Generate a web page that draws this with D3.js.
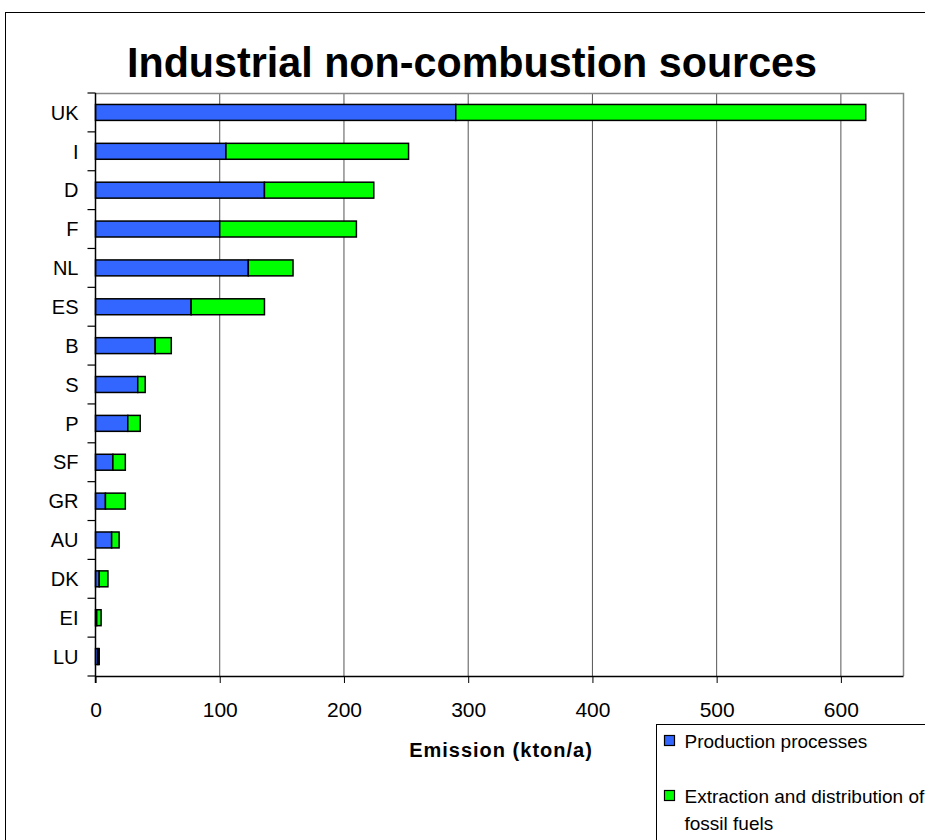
<!DOCTYPE html>
<html>
<head>
<meta charset="utf-8">
<script src="https://cdn.jsdelivr.net/npm/d3@7"></script>
<style>
  body { margin: 0; background: #fff; }
  svg { display: block; font-family: "Liberation Sans", Arial, sans-serif; }
</style>
</head>
<body>
<svg id="chart" width="925" height="840"></svg>
<script>
// countries, top to bottom
var countries = ["UK", "I", "D", "F", "NL", "ES", "B", "S", "P", "SF", "GR", "AU", "DK", "EI", "LU"];
// kton/a
var production = [290, 105, 136, 100, 123, 77, 48, 34, 26, 14, 8, 13, 3, 1, 2];
var extraction = [330, 147, 88, 110, 36, 59, 13, 6, 10, 10, 16, 6, 7, 3.5, 1];
var xTicks = [0, 100, 200, 300, 400, 500, 600];
var seriesNames = ["Production processes", "Extraction and distribution of fossil fuels"];
var seriesColors = ["#3366ff", "#00ff00"];

(function(){
  var svg = d3.select("#chart"),
    margin = {top: 93, right: 22, bottom: 164, left: 95.5},
    width = 925 - margin.left - margin.right,
    height = 840 - margin.top - margin.bottom,
    x, y, g;

  function init(){
    drawFrame();
    initScale();
    drawGrid();
    drawBars();
    drawAxis();
    drawLegend();
  }

  function drawFrame(){
    svg.append("rect")
      .attr("x", 5.5).attr("y", 12.5)
      .attr("width", 960).attr("height", 900)
      .attr("fill", "none").attr("stroke", "#000").attr("stroke-width", 1);

    svg.append("text")
      .attr("x", 472).attr("y", 77)
      .attr("text-anchor", "middle")
      .attr("font-size", 42).attr("font-weight", "bold")
      .attr("textLength", 690).attr("lengthAdjust", "spacingAndGlyphs")
      .text("Industrial non-combustion sources");

    g = svg.append("g").attr("transform", "translate(" + margin.left + "," + margin.top + ")");
  }

  function initScale(){
    x = d3.scaleLinear().domain([0, 650]).range([0, width]);
    y = d3.scaleBand().domain(countries).range([0, height]).paddingInner(0.59).paddingOuter(0.295);
  }

  function drawGrid(){
    g.append("g").selectAll("line")
      .data(xTicks.slice(1))
      .join("line")
        .attr("x1", function(d){ return x(d); }).attr("x2", function(d){ return x(d); })
        .attr("y1", 0).attr("y2", height)
        .attr("stroke", "#555").attr("stroke-width", 1);

    // top and right edges of plot area
    g.append("path")
      .attr("d", "M0,0.5H" + (width + 0.5) + "V" + height)
      .attr("fill", "none").attr("stroke", "#888").attr("stroke-width", 1.5);
  }

  function drawBars(){
    var rows = countries.map(function(c, i){
      return {country: c, p: production[i], e: extraction[i]};
    });

    var bar = g.append("g").selectAll("g")
      .data(rows)
      .join("g");

    bar.append("rect")
      .attr("x", x(0))
      .attr("y", function(d){ return y(d.country); })
      .attr("width", function(d){ return x(d.p) - x(0); })
      .attr("height", y.bandwidth())
      .attr("fill", seriesColors[0])
      .attr("stroke", "#000").attr("stroke-width", 1.5);

    bar.append("rect")
      .attr("x", function(d){ return x(d.p); })
      .attr("y", function(d){ return y(d.country); })
      .attr("width", function(d){ return x(d.p + d.e) - x(d.p); })
      .attr("height", y.bandwidth())
      .attr("fill", seriesColors[1])
      .attr("stroke", "#000").attr("stroke-width", 1.5);
  }

  function drawAxis(){
    var xAxis = d3.axisBottom(x).tickValues(xTicks).tickSize(7).tickSizeOuter(0).tickPadding(19);
    var ax = g.append("g")
      .attr("transform", "translate(0," + height + ")")
      .call(xAxis);
    ax.select(".domain").attr("stroke", "#000").attr("stroke-width", 1.5);
    ax.selectAll(".tick line").attr("stroke", "#000");
    ax.selectAll("text").attr("font-size", 21).attr("font-family", "Liberation Sans, Arial, sans-serif").attr("fill", "#000");

    // y axis: labels centered on bands, ticks on band boundaries
    var ay = g.append("g");
    ay.append("line")
      .attr("x1", 0).attr("x2", 0).attr("y1", 0).attr("y2", height + 7)
      .attr("stroke", "#000").attr("stroke-width", 1.5);
    var step = y.step();
    ay.selectAll(".yt")
      .data(d3.range(countries.length + 1))
      .join("line")
        .attr("class", "yt")
        .attr("x1", -8).attr("x2", 0)
        .attr("y1", function(i){ return i * step; }).attr("y2", function(i){ return i * step; })
        .attr("stroke", "#000").attr("stroke-width", 1.2);
    ay.selectAll("text")
      .data(countries)
      .join("text")
        .attr("x", -17)
        .attr("y", function(d){ return y(d) + y.bandwidth() / 2; })
        .attr("dy", "0.36em")
        .attr("text-anchor", "end")
        .attr("font-size", 20)
        .text(function(d){ return d; });

    svg.append("text")
      .attr("x", 501).attr("y", 757)
      .attr("text-anchor", "middle")
      .attr("font-size", 20).attr("font-weight", "bold")
      .attr("letter-spacing", 1)
      .text("Emission (kton/a)");
  }

  function drawLegend(){
    var lg = svg.append("g").attr("transform", "translate(656.5,724.5)");
    lg.append("rect")
      .attr("width", 300).attr("height", 200)
      .attr("fill", "#fff").attr("stroke", "#000").attr("stroke-width", 1);

    var lines = [[seriesNames[0]], ["Extraction and distribution of", "fossil fuels"]];
    var tops = [11, 66];
    lines.forEach(function(l, i){
      lg.append("rect")
        .attr("x", 8).attr("y", tops[i])
        .attr("width", 10).attr("height", 10)
        .attr("fill", seriesColors[i]).attr("stroke", "#000").attr("stroke-width", 1.2);
      l.forEach(function(t, j){
        lg.append("text")
          .attr("x", 28).attr("y", tops[i] + 12 + j * 27)
          .attr("font-size", 19)
          .text(t);
      });
    });
  }

  init();
})();
</script>
</body>
</html>
